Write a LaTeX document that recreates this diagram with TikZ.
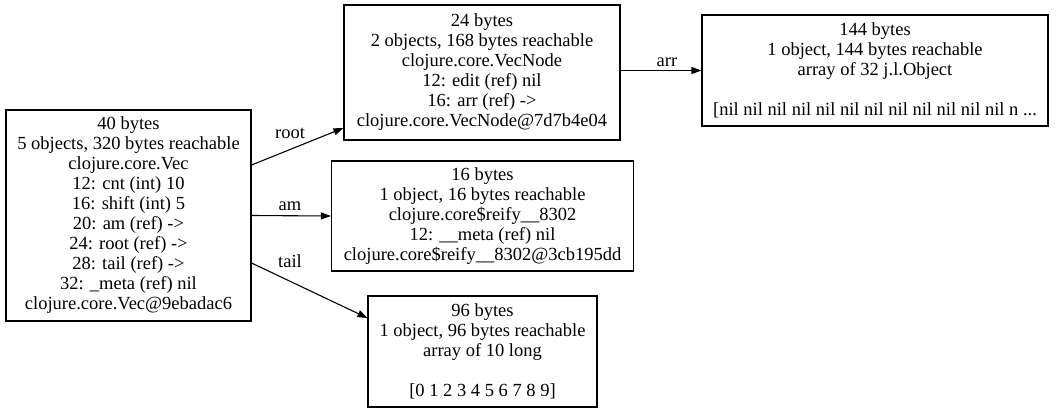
\documentclass[tikz,border=0pt]{standalone}
\usepackage{fontspec}
\setmainfont{Liberation Serif}
\usetikzlibrary{arrows.meta}
\begin{document}
\begin{tikzpicture}[x=1pt,y=-1pt,
  obj/.style={draw, line width=1.1pt, inner sep=0pt, align=center,
    font=\fontsize{18.5}{20}\selectfont},
  lbl/.style={inner sep=0pt, font=\fontsize{18.5}{20}\selectfont},
  edge/.style={line width=1.1pt, -{Triangle[length=10pt,width=7pt]}}]
\useasboundingbox (0,0) rectangle (1057,413);
\node[obj, minimum width=245pt, minimum height=211pt] (A) at (128.5,215.5)
  {40 bytes\\5 objects, 320 bytes reachable\\clojure.core.Vec\\12: cnt (int) 10\\16: shift (int) 5\\20: am (ref) ->\\24: root (ref) ->\\28: tail (ref) ->\\32: \_meta (ref) nil\\clojure.core.Vec@9ebadac6};
\node[obj, minimum width=276pt, minimum height=135pt] (B) at (482,72.5)
  {24 bytes\\2 objects, 168 bytes reachable\\clojure.core.VecNode\\12: edit (ref) nil\\16: arr (ref) ->\\clojure.core.VecNode@7d7b4e04};
\node[obj, minimum width=346pt, minimum height=111pt] (C) at (875,70.5)
  {144 bytes\\1 object, 144 bytes reachable\\array of 32 j.l.Object\\ \strut\\ {[}nil nil nil nil nil nil nil nil nil nil nil nil n ...};
\node[obj, minimum width=302pt, minimum height=110pt] (D) at (482.5,216)
  {16 bytes\\1 object, 16 bytes reachable\\clojure.core\$reify\_\_8302\\12: \_\_meta (ref) nil\\clojure.core\$reify\_\_8302@3cb195dd};
\node[obj, minimum width=229pt, minimum height=111pt] (E) at (482.5,351.5)
  {96 bytes\\1 object, 96 bytes reachable\\array of 10 long\\ \strut\\ {[}0 1 2 3 4 5 6 7 8 9{]}};
\draw[edge] ([yshift=50.5pt]A.east) -- ([yshift=-55.5pt]B.west);
\draw[edge] (A.east) -- (D.west);
\draw[edge] ([yshift=-47.5pt]A.east) -- ([yshift=33.5pt]E.west);
\draw[edge] (B.east |- C.west) -- (C.west);
\node[lbl] (lroot) at (290,133) {root};
\node[lbl] (lam) at (290,206) {am};
\node[lbl] (ltail) at (290,261) {tail};
\node[lbl] (larr) at (667,62) {arr};
\end{tikzpicture}
\end{document}
